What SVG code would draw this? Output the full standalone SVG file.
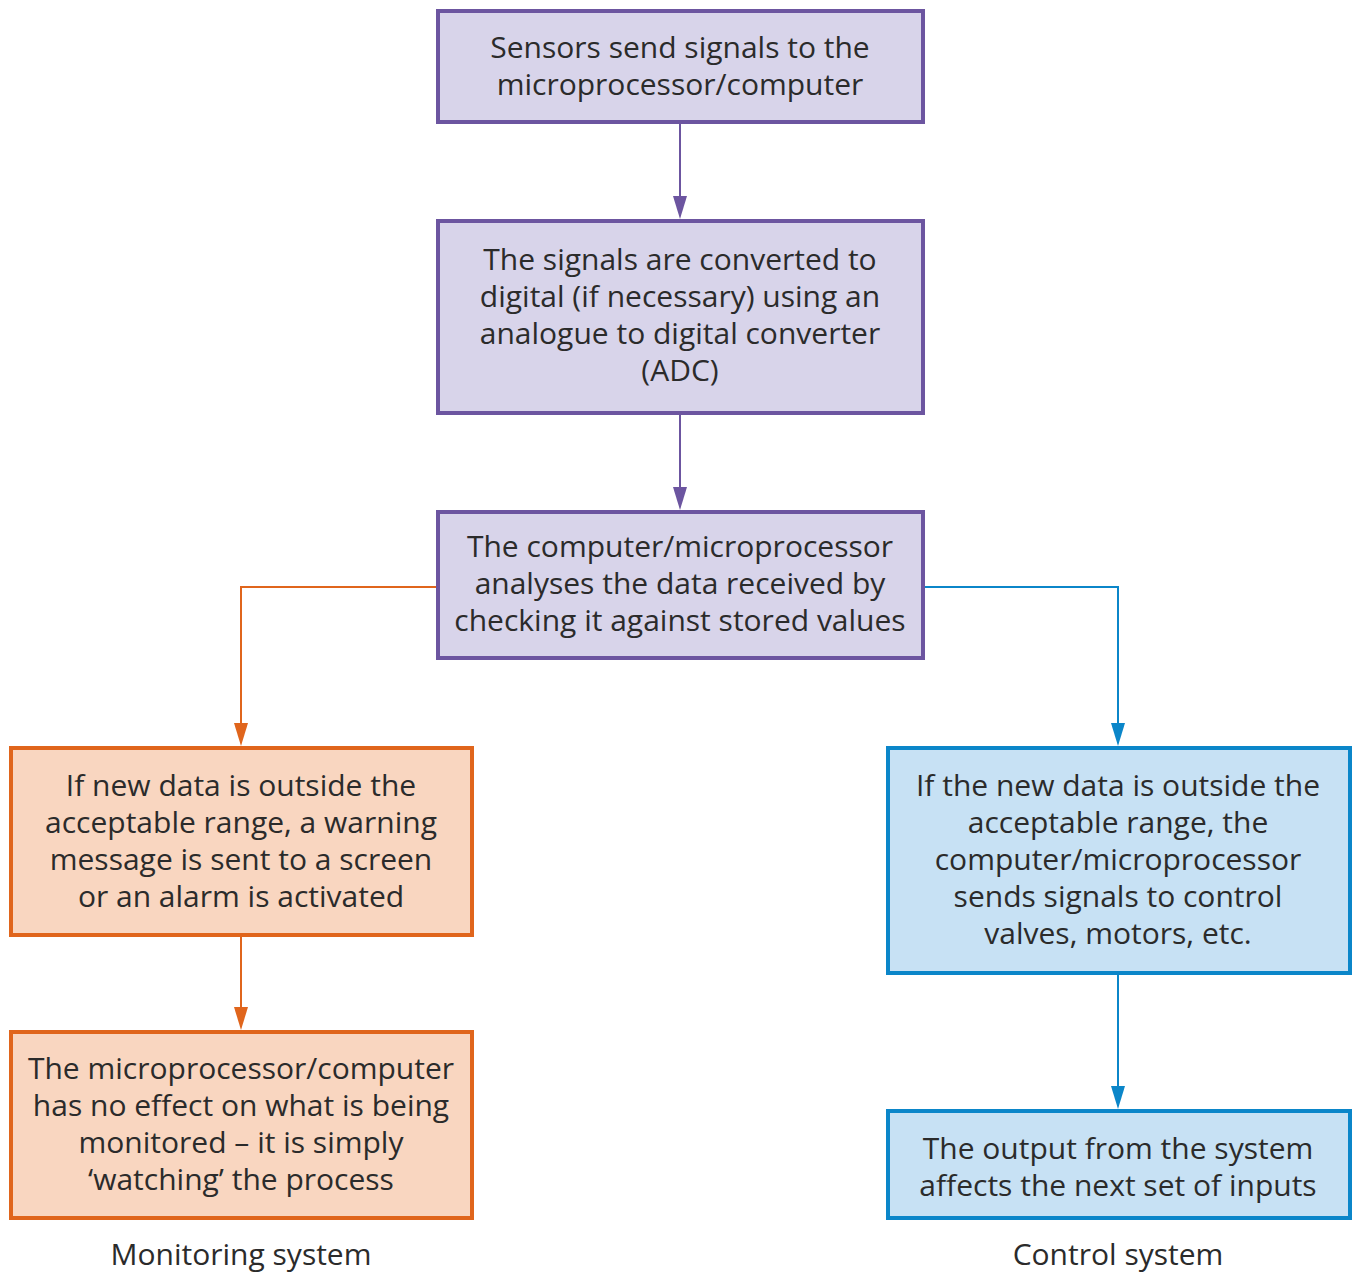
<svg xmlns="http://www.w3.org/2000/svg" width="1354" height="1272" viewBox="0 0 1354 1272">
<style>
.t{font-family:"Open Sans","Noto Sans",sans-serif;font-size:30px;fill:#2b2b2b;text-anchor:middle}
.p{fill:#d8d4ea;stroke:#6c55a0;stroke-width:4}
.o{fill:#f9d6c0;stroke:#e0651c;stroke-width:4}
.b{fill:#c7e1f4;stroke:#0b86c9;stroke-width:4}
.lp{stroke:#6c55a0;stroke-width:2;fill:none}
.lo{stroke:#e0651c;stroke-width:2;fill:none}
.lb{stroke:#0b86c9;stroke-width:2;fill:none}
.hp{fill:#6c55a0}.ho{fill:#e0651c}.hb{fill:#0b86c9}
</style>
<rect width="1354" height="1272" fill="#fff"/>
<g id="connectors">
<line class="lp" x1="680" y1="122" x2="680" y2="198"/><path class="hp" d="M673,196 L687,196 L680,219 Z"/>
<line class="lp" x1="680" y1="413" x2="680" y2="489"/><path class="hp" d="M673,487 L687,487 L680,510 Z"/>
<polyline class="lo" points="438,587 241,587 241,725"/><path class="ho" d="M234,723 L248,723 L241,746 Z"/>
<polyline class="lb" points="923,587 1118,587 1118,725"/><path class="hb" d="M1111,723 L1125,723 L1118,746 Z"/>
<line class="lo" x1="241" y1="935" x2="241" y2="1009"/><path class="ho" d="M234,1007 L248,1007 L241,1030 Z"/>
<line class="lb" x1="1118" y1="973" x2="1118" y2="1088"/><path class="hb" d="M1111,1086 L1125,1086 L1118,1109 Z"/>
</g>
<g id="n1"><rect class="p" x="438" y="11" width="485" height="111"/>
<text class="t" x="680" y="58">Sensors send signals to the</text>
<text class="t" x="680" y="95">microprocessor/computer</text></g>
<g id="n2"><rect class="p" x="438" y="221" width="485" height="192"/>
<text class="t" x="680" y="270">The signals are converted to</text>
<text class="t" x="680" y="307">digital (if necessary) using an</text>
<text class="t" x="680" y="344">analogue to digital converter</text>
<text class="t" x="680" y="381">(ADC)</text></g>
<g id="n3"><rect class="p" x="438" y="512" width="485" height="146"/>
<text class="t" x="680" y="557">The computer/microprocessor</text>
<text class="t" x="680" y="594">analyses the data received by</text>
<text class="t" x="680" y="631">checking it against stored values</text></g>
<g id="n4"><rect class="o" x="11" y="748" width="461" height="187"/>
<text class="t" x="241" y="796">If new data is outside the</text>
<text class="t" x="241" y="833">acceptable range, a warning</text>
<text class="t" x="241" y="870">message is sent to a screen</text>
<text class="t" x="241" y="907">or an alarm is activated</text></g>
<g id="n5"><rect class="o" x="11" y="1032" width="461" height="186"/>
<text class="t" x="241" y="1079">The microprocessor/computer</text>
<text class="t" x="241" y="1116">has no effect on what is being</text>
<text class="t" x="241" y="1153">monitored – it is simply</text>
<text class="t" x="241" y="1190">‘watching’ the process</text></g>
<g id="n6"><rect class="b" x="888" y="748" width="462" height="225"/>
<text class="t" x="1118" y="796">If the new data is outside the</text>
<text class="t" x="1118" y="833">acceptable range, the</text>
<text class="t" x="1118" y="870">computer/microprocessor</text>
<text class="t" x="1118" y="907">sends signals to control</text>
<text class="t" x="1118" y="944">valves, motors, etc.</text></g>
<g id="n7"><rect class="b" x="888" y="1111" width="462" height="107"/>
<text class="t" x="1118" y="1159">The output from the system</text>
<text class="t" x="1118" y="1196">affects the next set of inputs</text></g>
<g id="labels">
<text class="t" x="241" y="1265">Monitoring system</text>
<text class="t" x="1118" y="1265">Control system</text></g>
</svg>
